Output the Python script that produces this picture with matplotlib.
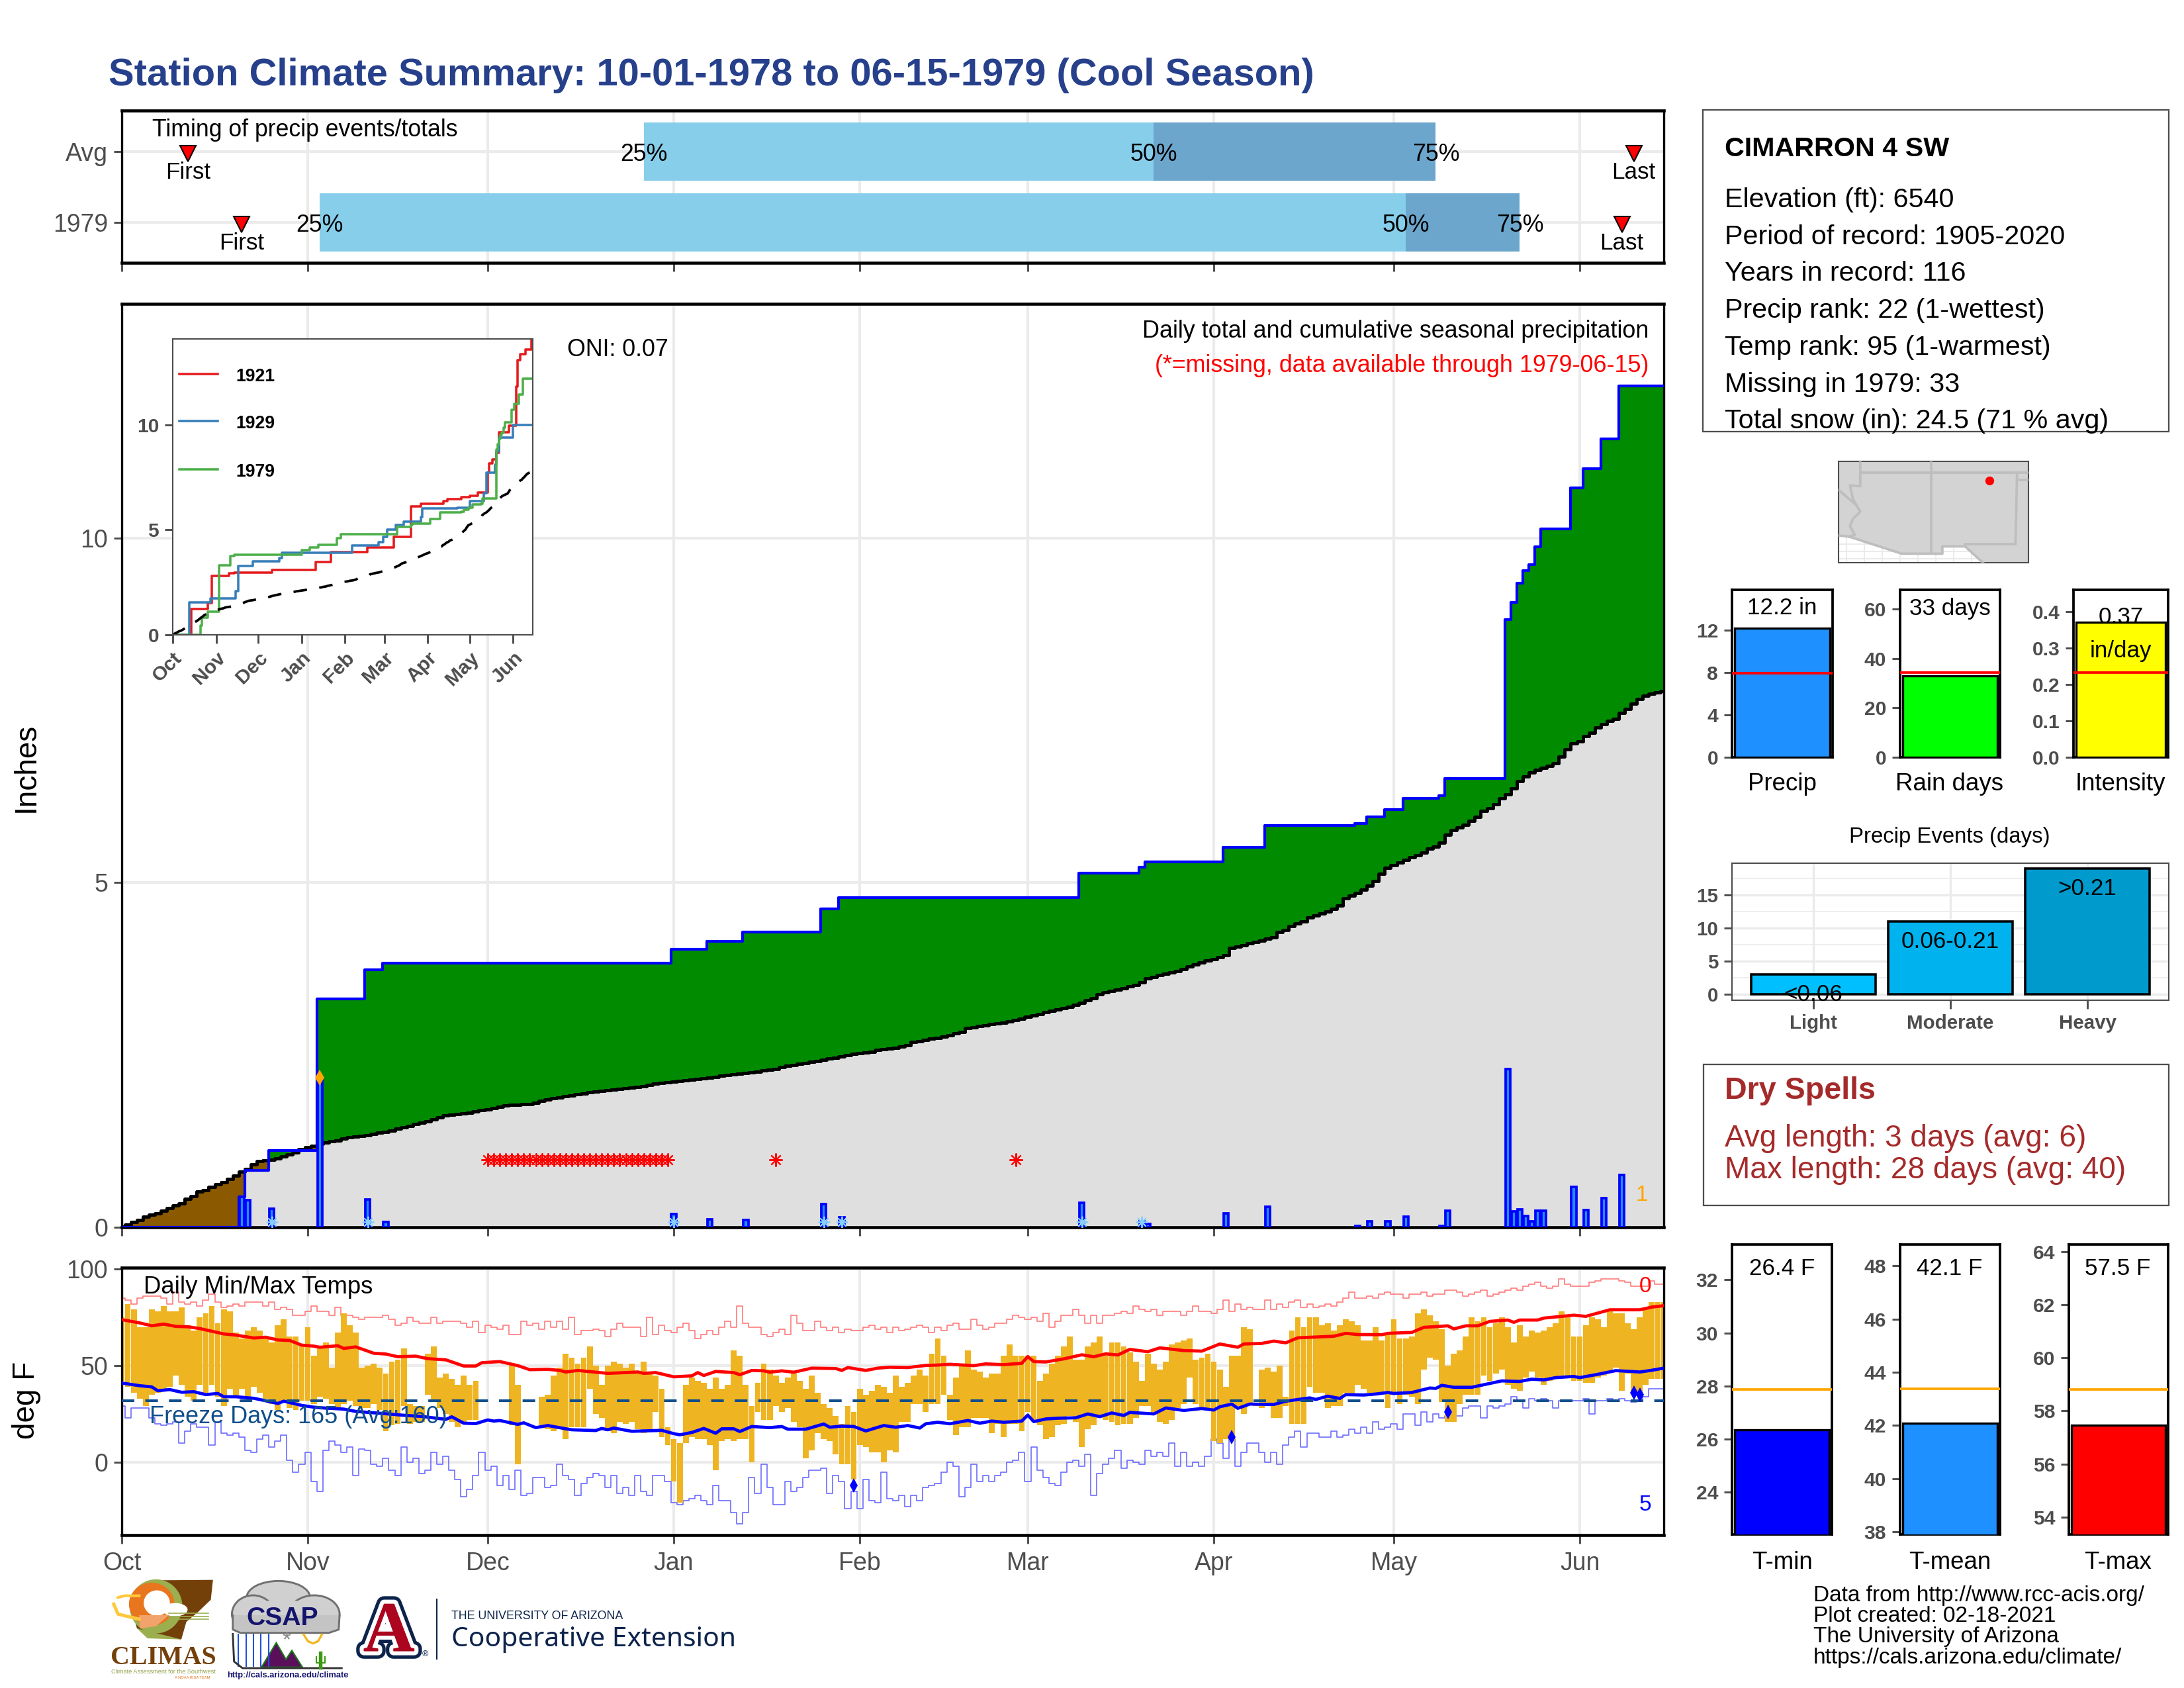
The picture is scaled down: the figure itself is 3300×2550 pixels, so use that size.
#!/usr/bin/env python3
"""Station climate summary panel for CIMARRON 4 SW, cool season 1978-79."""

import numpy as np
import matplotlib
matplotlib.use("Agg")
import matplotlib.pyplot as plt
from matplotlib.patches import Ellipse, Polygon, Rectangle
import matplotlib.patheffects as pe

plt.rcParams['font.family'] = ['Liberation Sans', 'DejaVu Sans']

nan = float('nan')
W, H = 3300, 2550

# Days are counted from Oct 1
month_days = [0, 31, 61, 92, 123, 151, 182, 212, 243]
month_names = ['Oct', 'Nov', 'Dec', 'Jan', 'Feb', 'Mar', 'Apr', 'May', 'Jun']
last_day = 257

# Daily precip
precip_days = [20, 21, 25, 33, 41, 44, 92, 98, 104, 117, 120, 160, 170, 171, 184, 191, 206,
               208, 211, 214, 220, 221, 231, 232, 233, 234, 235, 236, 237, 242, 244, 247, 250]
precip_vals = [0.44, 0.39, 0.27, 2.17, 0.40, 0.08, 0.19, 0.12, 0.11, 0.34, 0.14, 0.355, 0.09, 0.05, 0.20, 0.30, 0.015,
               0.085, 0.085, 0.15, 0.02, 0.24, 2.30, 0.23, 0.26, 0.16, 0.085, 0.24, 0.24, 0.59, 0.25, 0.42, 0.76]
cum_vals = [0.44, 0.83, 1.115, 3.31, 3.74, 3.83, 4.03, 4.15, 4.28, 4.62, 4.78, 5.14, 5.23, 5.30, 5.51, 5.83, 5.86,
            5.96, 6.06, 6.22, 6.26, 6.51, 8.82, 9.07, 9.35, 9.53, 9.62, 9.87, 10.13, 10.73, 11.01, 11.44, 12.21]
snow_days = [25, 41, 92, 117, 120, 160, 170]
missing_days = list(range(61, 92)) + [109, 149]
record_day = 33
record_val = 2.17

# Average cumulative precip, one value per day
avg_cum = [
    0.01, 0.04, 0.08, 0.11, 0.15, 0.18, 0.20, 0.24, 0.28, 0.32,
    0.35, 0.41, 0.45, 0.52, 0.54, 0.59, 0.62, 0.65, 0.70, 0.75,
    0.81, 0.85, 0.91, 0.96, 0.97, 0.98, 1.00, 1.03, 1.06, 1.09,
    1.13, 1.16, 1.18, 1.21, 1.23, 1.25, 1.26, 1.29, 1.31, 1.32,
    1.33, 1.34, 1.35, 1.37, 1.38, 1.40, 1.43, 1.45, 1.47, 1.50,
    1.52, 1.54, 1.57, 1.59, 1.62, 1.63, 1.64, 1.65, 1.66, 1.68,
    1.70, 1.71, 1.73, 1.75, 1.77, 1.78, 1.78, 1.79, 1.79, 1.81,
    1.83, 1.85, 1.87, 1.88, 1.90, 1.91, 1.93, 1.94, 1.96, 1.97,
    1.98, 1.99, 2.00, 2.01, 2.02, 2.03, 2.04, 2.05, 2.07, 2.08,
    2.09, 2.10, 2.11, 2.12, 2.13, 2.14, 2.15, 2.16, 2.17, 2.18,
    2.20, 2.21, 2.22, 2.23, 2.24, 2.25, 2.26, 2.28, 2.29, 2.30,
    2.32, 2.34, 2.35, 2.37, 2.38, 2.40, 2.41, 2.43, 2.45, 2.46,
    2.48, 2.50, 2.52, 2.53, 2.54, 2.55, 2.57, 2.58, 2.59, 2.60,
    2.62, 2.64, 2.69, 2.70, 2.72, 2.74, 2.75, 2.77, 2.79, 2.81,
    2.83, 2.89, 2.90, 2.92, 2.93, 2.95, 2.96, 2.97, 2.99, 3.01,
    3.03, 3.05, 3.07, 3.09, 3.12, 3.14, 3.16, 3.18, 3.20, 3.23,
    3.26, 3.29, 3.32, 3.38, 3.41, 3.43, 3.45, 3.47, 3.50, 3.52,
    3.55, 3.61, 3.63, 3.66, 3.68, 3.70, 3.72, 3.75, 3.78, 3.81,
    3.84, 3.87, 3.89, 3.92, 3.95, 4.05, 4.07, 4.09, 4.12, 4.14,
    4.16, 4.19, 4.21, 4.28, 4.31, 4.37, 4.41, 4.44, 4.50, 4.52,
    4.55, 4.58, 4.62, 4.67, 4.77, 4.81, 4.85, 4.90, 4.96, 5.02,
    5.13, 5.22, 5.25, 5.29, 5.33, 5.37, 5.40, 5.44, 5.49, 5.52,
    5.58, 5.70, 5.76, 5.80, 5.84, 5.90, 5.96, 6.04, 6.08, 6.14,
    6.22, 6.28, 6.37, 6.47, 6.54, 6.60, 6.64, 6.67, 6.70, 6.73,
    6.83, 6.94, 7.02, 7.05, 7.13, 7.18, 7.25, 7.30, 7.35, 7.38,
    7.46, 7.52, 7.60, 7.67, 7.71, 7.74, 7.76, 7.78]

# Wettest years in the inset
y1921_days = [13, 25, 28, 40, 44, 71, 102, 113, 139, 158, 170, 177, 193, 196, 206, 212, 218, 225, 226, 228, 231, 233, 240, 245, 246, 248, 252, 256]
y1921_vals = [1.22, 1.50, 2.82, 2.92, 2.95, 3.10, 3.46, 3.93, 4.16, 4.67, 6.11, 6.23, 6.38, 6.47, 6.55, 6.62, 6.78, 7.72, 8.17, 8.37, 8.68, 9.64, 9.98, 11.84, 13.08, 13.37, 13.60, 14.10]
y1929_days = [12, 27, 45, 47, 57, 76, 78, 128, 147, 150, 153, 159, 165, 177, 178, 203, 212, 222, 224, 230, 231, 233, 243]
y1929_vals = [1.56, 1.73, 2.09, 3.28, 3.50, 3.67, 3.91, 4.25, 4.42, 4.67, 5.00, 5.23, 5.40, 5.63, 6.02, 6.06, 6.38, 6.76, 7.72, 8.11, 8.73, 9.41, 10.00]

# Timing strip
timing_labels = ['1979', 'Avg']
first_days = [20, 11]
last_days = [250, 252]
q25_days = [33, 87]
q50_days = [214, 172]
q75_days = [233, 219]

# Daily temps (deg F), one value per day
tmax = [
    75, 82, 79, 70, 70, 79, 78, 81, 78, 78, 80, 71, 68, 75, 77, 81, 72, 79, 78, 67,
    64, 68, 70, 68, 65, 62, 71, 74, 65, 65, 61, 70, 55, 60, 62, 49, 67, 77, 71, 67,
    49, 50, 51, 49, 46, 52, 53, 59, 30, 29, 29, 56, 60, 44, 46, 43, 40, 45, 40, 42,
    nan, nan, nan, nan, nan, 50, 40, nan, nan, nan, 34, 35, 45, 49, 56, 54, 51, 54, 60, 50,
    40, 50, 52, 51, 49, 51, 46, 52, 47, 45, 38, 18, 12, 10, 40, 44, 42, 41, 38, 44,
    38, 40, 58, 55, 40, 29, 41, 51, 48, 45, 41, 44, 46, 42, 38, 45, 36, 30, 28, 24,
    20, 29, 26, 38, 35, 37, 40, 39, 36, 45, 39, 41, 45, 48, 45, 56, 64, 55, 35, 44,
    50, 58, 48, 47, 44, 46, 46, 55, 61, 55, 55, 55, 55, 42, 46, 51, 55, 60, 65, 53,
    53, 60, 62, 65, 55, 62, 62, 60, 57, 52, 42, 56, 51, 48, 52, 61, 62, 63, 64, 53,
    54, 56, 52, 48, 39, 55, 55, 70, 69, 30, 48, 49, 47, 50, 34, 68, 75, 70, 75, 75,
    71, 72, 68, 71, 74, 73, 71, 63, 63, 70, 63, 66, 74, 64, 64, 65, 77, 79, 76, 73,
    69, 50, 56, 58, 65, 75, 73, 75, 70, 72, 75, 70, 62, 71, 65, 68, 67, 68, 70, 72,
    78, 75, 65, 65, 71, 75, 74, 70, 79, 77, 77, 72, 69, 75, 80, 83, 83, 83]
tmin = [
    42, 39, 36, 33, 29, 35, 36, 38, 39, 45, 40, 34, 32, 40, 36, 40, 34, 29, 38, 34,
    38, 34, 39, 36, 33, 30, 27, 32, 28, 27, 32, 32, 30, 34, 33, 30, 28, 30, 32, 29,
    28, 28, 30, 27, 16, 19, 20, 29, 20, 21, 21, 35, 32, 28, 25, 21, 18, 21, 22, 22,
    nan, nan, nan, nan, nan, 19, -1, nan, nan, nan, 19, 17, 16, 17, 12, 18, 18, 18, 38, 25,
    23, 16, 15, 21, 20, 21, 17, 15, 17, 26, 13, 9, -10, -21, 10, 13, 12, 12, 9, -4,
    11, 12, 11, 12, 12, 0, 26, 22, 22, 29, 26, 28, 21, 18, 2, 6, 15, 12, 11, 4,
    -1, -1, -9, 9, 8, 5, 5, 0, 6, 5, 21, 21, 30, 30, 26, 30, 30, 35, 22, 14,
    18, 18, 23, 23, 23, 15, 20, 13, 20, 20, 16, 26, 21, 19, 12, 13, 19, 20, 24, 21,
    8, 17, 19, 24, 22, 21, 19, 20, 20, 23, 29, 29, 25, 21, 20, 22, 28, 30, 44, 30,
    27, 28, 11, 10, 12, 11, 29, 25, 30, 29, 28, 30, 23, 23, 29, 20, 20, 20, 39, 36,
    36, 28, 29, 29, 36, 35, 40, 38, 36, 36, 36, 28, 36, 30, 35, 34, 30, 48, 54, 53,
    31, 21, 21, 30, 35, 35, 35, 45, 42, 46, 48, 40, 38, 37, 44, 47, 44, 40, 42, 44,
    45, 45, 42, 42, 41, 41, 44, 45, 47, 49, 37, 46, 37, 36, 40, 43, 43, 43]

# Record high/low by calendar day
rec_high = [
    85, 84, 82, 85, 86, 86, 86, 85, 82, 88, 83, 82, 83, 81, 84, 87, 83, 80, 81, 82,
    81, 83, 83, 83, 81, 83, 79, 80, 79, 76, 76, 78, 81, 78, 78, 76, 80, 76, 76, 75,
    74, 75, 75, 75, 76, 74, 71, 72, 75, 73, 72, 72, 75, 72, 73, 73, 73, 72, 70, 73,
    67, 71, 70, 69, 71, 66, 66, 73, 71, 72, 69, 73, 70, 73, 69, 75, 66, 68, 68, 69,
    68, 65, 69, 72, 70, 70, 70, 65, 75, 66, 71, 68, 67, 70, 72, 68, 64, 66, 68, 66,
    70, 73, 70, 81, 72, 70, 70, 66, 65, 67, 69, 66, 76, 72, 68, 68, 73, 70, 68, 70,
    67, 69, 68, 68, 70, 71, 69, 70, 67, 70, 68, 69, 70, 71, 70, 67, 70, 68, 71, 72,
    69, 69, 74, 71, 69, 70, 72, 72, 74, 76, 75, 74, 75, 73, 77, 70, 73, 76, 76, 79,
    76, 72, 76, 72, 76, 76, 77, 78, 77, 81, 79, 78, 79, 76, 78, 78, 78, 76, 78, 81,
    78, 78, 77, 79, 84, 78, 82, 79, 80, 79, 79, 84, 79, 82, 80, 83, 84, 80, 82, 80,
    81, 82, 81, 83, 85, 88, 85, 85, 86, 85, 87, 88, 87, 87, 85, 87, 87, 88, 86, 87,
    87, 89, 89, 88, 86, 87, 88, 89, 86, 87, 88, 89, 90, 89, 91, 92, 93, 91, 90, 91,
    95, 92, 91, 91, 91, 93, 94, 95, 95, 95, 94, 93, 91, 91, 91, 94, 92, 92]
rec_low = [
    29, 23, 28, 28, 28, 23, 20, 19, 20, 21, 10, 16, 20, 18, 18, 9, 21, 15, 14, 15,
    13, 6, 5, 12, 14, 8, 11, 14, 1, -5, -1, 5, -10, -15, 6, 11, 9, 5, 8, -7,
    7, 6, -1, -2, 2, -4, -7, 8, 0, 2, -6, -4, 5, -1, 3, -4, -9, -18, -14, -7,
    5, -4, -2, -12, -7, -14, -4, -17, -16, -8, -8, -13, -12, -1, -7, -9, -17, -11, -8, -6,
    -7, -13, -7, -16, -13, -17, -7, -15, -17, -7, -7, -10, -21, -22, -20, -19, -17, -20, -22, -12,
    -20, -20, -26, -32, -26, -8, -16, -1, -13, -22, -22, -10, -15, -13, -8, -4, -4, -3, -16, -7,
    -10, -24, -15, -24, -9, -20, -21, -5, -19, -20, -17, -23, -17, -20, -13, -12, -11, -5, 0, -2,
    -18, -13, -1, -10, -7, -10, -7, -5, 0, 1, 5, -10, 8, -4, -8, -11, -12, -5, 0, 1,
    -2, 4, -17, -6, -1, 2, 6, -3, 1, 0, -1, 6, 3, 5, 3, 10, -2, 5, -2, 0,
    -2, 3, 12, 10, 2, 12, -2, 5, 10, 10, 5, 0, 5, -1, 9, 13, 16, 8, 15, 15,
    13, 13, 16, 13, 14, 17, 15, 18, 15, 21, 17, 18, 20, 17, 25, 25, 19, 26, 21, 25,
    23, 24, 24, 24, 28, 29, 29, 23, 29, 28, 29, 30, 34, 32, 28, 33, 32, 33, 32, 28,
    32, 32, 32, 32, 33, 25, 32, 32, 33, 32, 33, 32, 31, 32, 34, 38, 38, 38]

# Smoothed daily normals, read at the visible wiggles
avg_high_days = [0, 3, 5, 7, 9, 11, 13, 15, 17, 19, 22, 24, 26, 28, 30, 32, 33, 36, 37, 39, 42, 44, 46, 49, 51, 54, 57, 59, 60, 63,
                 66, 68, 71, 73, 74, 76, 79, 81, 84, 86, 87, 89, 92, 95, 96, 97, 99, 102, 103, 105, 107, 108, 110, 112, 115, 119, 120, 121, 124, 126,
                 128, 131, 134, 136, 138, 142, 144, 147, 150, 151, 152, 154, 157, 160, 162, 164, 166, 168, 171, 173, 177, 180, 183, 186, 187, 190, 192, 194, 196, 202,
                 204, 206, 210, 211, 215, 217, 221, 222, 224, 226, 228, 231, 232, 233, 236, 237, 242, 244, 248, 253, 255, 257]
avg_high = [73.8, 72.1, 70.6, 71.5, 70.3, 70.1, 69.2, 67.8, 66.4, 65.8, 64.3, 64.7, 63.3, 63, 60.6, 60.1, 59.5, 60.3, 58.9, 59.7, 56.4, 56, 54.6, 54.9, 53.6, 53, 49.8, 49.8, 51.5, 52.1,
            50, 47.9, 48.1, 47.5, 46.7, 47.5, 46.6, 46, 46.4, 46.7, 46, 46.4, 44.2, 44.7, 46.4, 44.9, 47, 46.4, 45.3, 47.5, 47.3, 46.6, 47.3, 46.6, 48.7, 48.5, 47.5, 49, 47.5, 48.7,
            49.2, 49, 50.1, 50.3, 50.7, 50, 50.9, 50.5, 51.2, 54.7, 52.1, 51.9, 53.5, 55.6, 54.6, 56.1, 55.5, 58.4, 57.2, 59.2, 57.8, 57.5, 61.2, 59.5, 61.2, 61.5, 62.7, 61.8, 64.4, 65.2,
            66.7, 66.1, 66, 66.7, 67.2, 69.8, 70.6, 69, 70.6, 70.6, 72.9, 73.6, 72.4, 73.6, 73.6, 74.6, 76.1, 75.5, 78.9, 78.9, 80.3, 81]
avg_low_days = [0, 3, 5, 6, 8, 10, 12, 14, 16, 17, 19, 22, 24, 26, 27, 30, 32, 34, 37, 39, 44, 47, 50, 54, 55, 57, 59, 61, 62, 63,
                66, 67, 69, 71, 74, 75, 79, 80, 81, 82, 85, 90, 92, 93, 95, 97, 99, 100, 102, 103, 105, 108, 110, 111, 114, 117, 118, 120, 122, 124,
                127, 129, 131, 133, 134, 136, 138, 141, 143, 145, 147, 150, 151, 152, 154, 156, 159, 161, 163, 165, 167, 168, 172, 174, 177, 180, 182, 183, 185, 186,
                188, 192, 194, 198, 199, 201, 203, 204, 207, 209, 211, 212, 215, 218, 219, 220, 222, 225, 230, 233, 235, 237, 239, 242, 243, 246, 249, 252, 253, 255, 257]
avg_low = [41, 39.6, 39, 37, 37.6, 36.2, 36.5, 35, 35.6, 33.9, 33.9, 33.1, 31.8, 30.4, 31.6, 29.4, 28.5, 28, 27.5, 26.3, 25.1, 24.3, 23.7, 22.2, 23.5, 20.2, 20, 21.9, 21.3, 21.6,
           19.6, 20.4, 17.9, 19, 17.3, 16.8, 16.4, 17.5, 16.8, 17.7, 16, 16.5, 14.8, 14.2, 15.4, 17.5, 15, 17.3, 17.3, 15.9, 18.5, 17.9, 18.5, 17.1, 17.1, 19.8, 18.1, 18.7, 18.5, 16.2,
           19, 18.1, 19, 17.7, 19.9, 20.7, 19.9, 21.6, 20.2, 21.3, 20.7, 21.3, 24.4, 21, 22.4, 22.8, 23, 25, 23.6, 25.5, 24.2, 25.8, 25, 28.1, 26.8, 27.8, 27, 28.7, 30.1, 27.9,
           30.1, 29.9, 31.6, 33.3, 32.5, 34.2, 33, 35, 34.8, 35.3, 36.1, 35.6, 36.1, 38.4, 38.2, 39.8, 38.8, 38.8, 42.1, 41.8, 43, 42.6, 43.8, 44.4, 43.8, 45.5, 47.4, 46.9, 46.7, 47.6, 48.7]
low_mark_days = [122, 185, 221, 252, 253]
low_mark_vals = [-12, 13, 26, 36, 35]
freeze_temp = 32

# Side panels
precip_total, precip_avg = 12.2, 7.95
rain_days, rain_avg = 33, 34.2
intensity, intensity_avg = 0.37, 0.233
event_names = ['Light', 'Moderate', 'Heavy']
event_counts = [3, 11, 19]
event_labels = ['<0.06', '0.06-0.21', '>0.21']
event_colors = ['#00BFFF', '#00B2EE', '#009ACD']
tmin_mean, tmin_norm = 26.36, 27.87
tmean_mean, tmean_norm = 42.07, 43.37
tmax_mean, tmax_norm = 57.47, 58.82

info_lines = ['Elevation (ft): 6540', 'Period of record: 1905-2020', 'Years in record: 116',
              'Precip rank: 22 (1-wettest)', 'Temp rank: 95 (1-warmest)', 'Missing in 1979: 33',
              'Total snow (in): 24.5 (71 % avg)']
footer_lines = ['Data from http://www.rcc-acis.org/', 'Plot created: 02-18-2021',
                'The University of Arizona', 'https://cals.arizona.edu/climate/']

# Locator map outlines (lon, lat)
south_lon = [-115.55, -114.82, -111.12, -108.28, -108.28, -106.69, -105.44]
south_lat = [32.60, 32.53, 31.33, 31.33, 31.84, 31.84, 30.70]
river_lon = [-114.03, -114.03, -114.75, -114.53, -114.03, -114.53, -114.75, -114.41, -114.82]
river_lat = [37.8, 36.06, 36.12, 35.13, 34.27, 33.79, 33.26, 32.64, 32.53]
nv_lon = [-115.55, -114.30]
nv_lat = [35.80, 34.73]
az_nm_lon = [-109.05, -109.05]
az_nm_lat = [37.8, 31.33]
co_lon = [-114.03, -102.25]
co_lat = [37.0, 37.0]
tx_lon = [-103.05, -103.16, -106.69]
tx_lat = [37.0, 32.0, 32.0]
ok_lon = [-103.05, -102.25]
ok_lat = [36.52, 36.52]
station_lon, station_lat = -104.98, 36.47

GRAY30 = '#4D4D4D'
GRID = '#EBEBEB'


def add_panel(fig, x0, y0, x1, y1, **kw):
    """Axes from pixel corners, y counted from the top of the image."""
    return fig.add_axes([x0 / W, 1 - y1 / H, (x1 - x0) / W, (y1 - y0) / H], **kw)


def month_axis(ax):
    ax.set_xlim(0, last_day)
    ax.set_xticks(month_days)
    ax.set_xticklabels([])
    ax.grid(True, color=GRID, lw=1.0)
    ax.set_axisbelow(True)
    ax.tick_params(length=3, width=0.7, color=GRAY30, labelcolor=GRAY30, labelsize=9, pad=2)
    for side in ('top', 'bottom'):
        ax.spines[side].set_linewidth(1.1)
    for side in ('left', 'right'):
        ax.spines[side].set_linewidth(0.8)


def small_bar(fig, put, box, ylim, ticks, value, norm, color, norm_color, xlabel, xlabel_x, xlabel_y):
    ax = add_panel(fig, *box)
    ax.bar(0.5, value, width=0.95, color=color, edgecolor='black', lw=0.8, zorder=3)
    ax.axhline(norm, color=norm_color, lw=0.9, zorder=4)
    ax.set_xlim(0, 1)
    ax.set_ylim(*ylim)
    ax.set_xticks([])
    ax.set_yticks(ticks)
    ax.tick_params(length=3, width=0.7, color=GRAY30, labelcolor=GRAY30, labelsize=7.2, pad=2)
    for lab in ax.get_yticklabels():
        lab.set_fontweight('bold')
    for sp in ax.spines.values():
        sp.set_linewidth(0.9)
    put(xlabel_x, xlabel_y, xlabel, ha='center', fontsize=8.8)
    return ax


def info_box(ov, x0, y0, x1, y1):
    ov.add_patch(Rectangle((x0, y0), x1 - x0, y1 - y0, fc='none', ec=GRAY30, lw=0.55))


def draw_logos(ov):
    # rough redraw of the three logos, given in offsets of the logo strip
    lx = lambda v: 140 + v / 1.568
    ly = lambda v: 2360 + v / 3

    def poly(points, **kw):
        ov.add_patch(Polygon([(lx(a), ly(b)) for a, b in points], closed=True, **kw))

    def oval(a, b, w, h, **kw):
        ov.add_patch(Ellipse((lx(a), ly(b)), w / 1.568, h / 3, **kw))

    # CLIMAS
    brown = '#74400A'
    poly([(150, 82), (285, 80), (280, 170), (250, 225), (222, 270), (210, 350),
          (150, 335), (105, 300), (90, 200)], fc=brown, ec='none')
    oval(150, 200, 125, 245, fc='#9CAF4F', ec='none')
    oval(140, 190, 108, 195, fc='#E8761F', ec='none')
    oval(152, 185, 62, 115, fc='white', ec='none')
    oval(195, 215, 60, 60, fc='white', ec='none')
    poly([(110, 240), (180, 240), (150, 290), (112, 300)], fc='#F2A36B', ec='none')
    poly([(105, 300), (190, 340), (210, 350), (130, 345)], fc='#9CAF4F', ec='none')
    ov.plot([lx(50), lx(60), lx(110)], [ly(190), ly(235), ly(258)], color='#FFC93C', lw=1.2)
    ov.plot([lx(60), lx(75), lx(110)], [ly(160), ly(152), ly(152)], color='#FFC93C', lw=1.0)
    for offs in (232, 246, 258):
        ov.plot([lx(180), lx(275)], [ly(offs), ly(offs)], color='#9CAF4F', lw=0.4)
    ov.text(lx(168), ly(432), 'CLIMAS', family='Liberation Serif', fontweight='bold', color=brown,
            fontsize=9.6, ha='center', va='center')
    ov.text(lx(168), ly(495), 'Climate Assessment for the Southwest', color='#8FA34A', fontsize=2.2,
            ha='center', va='center')
    ov.text(lx(237), ly(523), 'A NOAA RISA TEAM', color='#E8761F', fontsize=1.4, ha='center', va='center')

    # CSAP
    oval(440, 160, 150, 150, fc='#D0D0D0', ec='#707070', lw=0.7)
    oval(525, 235, 120, 170, fc='#D0D0D0', ec='#707070', lw=0.7)
    oval(380, 235, 100, 170, fc='#D0D0D0', ec='#707070', lw=0.7)
    poly([(332, 240), (585, 240), (583, 305), (560, 320), (350, 320), (332, 305)], fc='#C4C4C4', ec='none')
    poly([(360, 175), (520, 175), (550, 240), (350, 240)], fc='#D0D0D0', ec='none')
    ov.plot([lx(332), lx(332), lx(350), lx(560), lx(583), lx(585)],
            [ly(240), ly(305), ly(320), ly(320), ly(305), ly(240)], color='#707070', lw=0.7)
    ov.text(lx(450), ly(255), 'CSAP', fontweight='bold', color='#14146E', fontsize=9.4, ha='center', va='center')
    for rain_x in (345, 363, 381, 399, 417):
        ov.plot([lx(rain_x), lx(rain_x)], [ly(328), ly(470)], color='#2050E0', lw=0.5)
    ov.plot([lx(332), lx(335), lx(355), lx(590)], [ly(325), ly(450), ly(480), ly(480)], color='#333333', lw=0.7)
    poly([(400, 476), (435, 365), (458, 440), (472, 400), (497, 476)], fc='#5B0F5B', ec='#1A7A1A', lw=0.5)
    ov.text(lx(460), ly(355), '*', color='#8A8A8A', fontsize=8, ha='center', va='center')
    ov.plot([lx(500), lx(510), lx(522), lx(534), lx(543)], [ly(328), ly(358), ly(368), ly(358), ly(328)],
            color='#F2B71F', lw=0.8)
    ov.plot([lx(540), lx(540)], [ly(412), ly(478)], color='#3C9A10', lw=1.3)
    ov.plot([lx(530), lx(530), lx(550), lx(550)], [ly(430), ly(455), ly(455), ly(430)], color='#3C9A10', lw=0.5)
    ov.text(lx(463), ly(513), 'http://cals.arizona.edu/climate', fontweight='bold', color='#14146E', fontsize=3.1,
            ha='center', va='center')

    # Arizona
    navy = '#0C234B'
    ov.text(lx(702), ly(325), 'A', family='Liberation Serif', fontweight='bold', color='#AB0520', fontsize=26,
            ha='center', va='center',
            path_effects=[pe.withStroke(linewidth=5.5, foreground=navy), pe.withStroke(linewidth=3, foreground='white'),
                          pe.Normal()])
    ov.text(lx(788), ly(418), '\u00ae', color=navy, fontsize=3, ha='center', va='center')
    ov.plot([lx(815), lx(815)], [ly(168), ly(438)], color=navy, lw=0.5)
    ov.text(lx(850), ly(243), 'THE UNIVERSITY OF ARIZONA', color=navy, fontsize=4.25, ha='left', va='center')
    ov.text(lx(850), ly(350), 'Cooperative Extension', family='Noto Sans', color=navy, fontsize=9.8,
            ha='left', va='center')


def main():
    fig = plt.figure(figsize=(11, 8.5), dpi=300)

    # overlay in image pixels for free text and logos
    ov = fig.add_axes([0, 0, 1, 1], zorder=20)
    ov.set_xlim(0, W)
    ov.set_ylim(H, 0)
    ov.axis('off')

    def put(x, y, s, **kw):
        # centred text, nudged down so the letters (not the descenders) sit on y
        kw.setdefault('ha', 'left')
        kw.setdefault('va', 'center')
        ov.text(x, y + 4, s, **kw)

    put(164, 110, 'Station Climate Summary: 10-01-1978 to 06-15-1979 (Cool Season)', color='#27408B',
        fontweight='bold', fontsize=13.9)

    # timing strip
    ax = add_panel(fig, 184, 167, 2514, 397)
    month_axis(ax)
    ax.set_ylim(0.43, 2.58)
    ax.set_yticks([1, 2])
    ax.set_yticklabels(timing_labels)
    for row in range(2):
        y = row + 1
        ax.barh(y, q50_days[row] - q25_days[row], left=q25_days[row], height=0.82, color='#87CEEB', zorder=2)
        ax.barh(y, q75_days[row] - q50_days[row], left=q50_days[row], height=0.82, color='#6CA6CD', zorder=2)
        for d, label in zip((q25_days[row], q50_days[row], q75_days[row]), ('25%', '50%', '75%')):
            ax.text(d, y - 0.04, label, ha='center', va='center', fontsize=8.6, zorder=4)
        for d, label in zip((first_days[row], last_days[row]), ('First', 'Last')):
            ax.plot(d, y - 0.03, marker='v', ms=5.6, mfc='red', mec='black', mew=0.5, zorder=4)
            ax.text(d, y - 0.29, label, ha='center', va='center', fontsize=8.4, zorder=4)
    put(230, 192, 'Timing of precip events/totals', fontsize=8.55)

    # main precip panel
    ax = add_panel(fig, 184, 459, 2514, 1854)
    month_axis(ax)
    days = np.arange(last_day + 1)
    obs = np.zeros(last_day + 1)
    for d, v in zip(precip_days, cum_vals):
        obs[d:] = v
    normal = np.array(avg_cum)
    ax.fill_between(days, 0, normal, step='mid', color='#8B5A00', lw=0, zorder=2)
    ax.fill_between(days, 0, obs, step='mid', color='#008B00', lw=0, zorder=2.1)
    ax.fill_between(days, 0, np.minimum(obs, normal), step='mid', color='#DFDFDF', lw=0, zorder=2.2)
    ax.step(days, normal, where='mid', color='black', lw=1.2, zorder=3)
    ax.step(days, obs, where='mid', color='#0000FF', lw=1.0, zorder=3.1)
    ax.bar(precip_days, precip_vals, width=0.8, color='#1E90FF', edgecolor='#0000FF', lw=0.9, zorder=3.2)
    ax.plot(snow_days, [0.08] * len(snow_days), ls='none', marker=(8, 2, 0), ms=4.2, mec='#87CEFA', mew=0.45, zorder=4)
    ax.plot(missing_days, [0.98] * len(missing_days), ls='none', marker=(8, 2, 0), ms=4.8, mec='red', mew=0.5, zorder=4)
    ax.plot(record_day, record_val, marker='d', ms=4, color='orange', mew=0, zorder=4)
    ax.set_ylim(0, 13.4)
    ax.set_yticks([0, 5, 10])
    put(40, 1155, 'Inches', rotation=90, ha='center', fontsize=11)
    put(857, 524, 'ONI: 0.07', fontsize=8.6)
    put(2491, 497, 'Daily total and cumulative seasonal precipitation', ha='right', fontsize=8.62)
    put(2491, 549, '(*=missing, data available through 1979-06-15)', color='red', ha='right', fontsize=8.62)
    put(2481, 1802, '1', color='orange', ha='center', fontsize=8)

    # wettest years inset
    inset = add_panel(fig, 261, 512, 805, 959, zorder=5)
    inset.set_xlim(0, last_day)
    inset.set_ylim(0, 14.1)
    inset.set_xticks(month_days)
    inset.set_xticklabels(month_names, rotation=45, ha='right', rotation_mode='anchor', fontweight='bold')
    inset.set_yticks([0, 5, 10])
    for lab in inset.get_yticklabels():
        lab.set_fontweight('bold')
    inset.tick_params(length=3, width=0.7, color=GRAY30, labelcolor=GRAY30, labelsize=7.2, pad=2)
    for sp in inset.spines.values():
        sp.set_linewidth(0.5)
        sp.set_color(GRAY30)
    inset.step([0] + y1921_days + [last_day], [0] + y1921_vals + [y1921_vals[-1]], where='post', color='#E41A1C', lw=0.85)
    inset.step([0] + y1929_days + [last_day], [0] + y1929_vals + [y1929_vals[-1]], where='post', color='#377EB8', lw=0.85)
    inset.step([0] + precip_days + [last_day], [0] + cum_vals + [cum_vals[-1]], where='post', color='#4DAF4A', lw=0.85)
    inset.plot(days, normal, color='black', lw=0.9, dashes=(5.5, 5))
    legend_rows = [('1921', '#E41A1C', 565), ('1929', '#377EB8', 636), ('1979', '#4DAF4A', 709)]
    for label, color, row_y in legend_rows:
        ov.plot([271, 329], [row_y, row_y], color=color, lw=0.85)
        put(356, row_y, label, fontweight='bold', fontsize=6.4)

    # daily temps
    ax = add_panel(fig, 184, 1915, 2514, 2319)
    month_axis(ax)
    tmax_arr = np.array(tmax, dtype=float)
    tmin_arr = np.array(tmin, dtype=float)
    ax.step(days, rec_high, where='mid', color='#FF5050', alpha=0.75, lw=0.4, zorder=2)
    ax.step(days, rec_low, where='mid', color='#3C3CFF', alpha=0.75, lw=0.4, zorder=2)
    ax.bar(days, tmax_arr - tmin_arr, bottom=tmin_arr, width=0.97, color='#EEB422', lw=0, zorder=2.5)
    ax.plot(avg_high_days, avg_high, color='red', lw=1.15, zorder=3)
    ax.plot(avg_low_days, avg_low, color='blue', lw=1.15, zorder=3)
    ax.axhline(freeze_temp, color='#104E8B', lw=0.95, dashes=(4.8, 4.2), zorder=3.2)
    ax.plot(low_mark_days, low_mark_vals, ls='none', marker='d', ms=3.6, color='blue', mew=0, zorder=4)
    ax.set_ylim(-37.7, 100.7)
    ax.set_yticks([0, 50, 100])
    ax.set_xticklabels(month_names)
    ax.tick_params(axis='x', pad=3)
    put(40, 2111, 'deg F', rotation=90, ha='center', fontsize=11)
    put(217, 1940, 'Daily Min/Max Temps', fontsize=8.75)
    put(226, 2137, 'Freeze Days: 165 (Avg:160)', color='#104E8B', fontsize=8.65)
    put(2486, 1940, '0', color='red', ha='center', fontsize=8)
    put(2486, 2270, '5', color='blue', ha='center', fontsize=8)

    # station info
    info_box(ov, 2573, 166, 3277, 652)
    put(2606, 221, 'CIMARRON 4 SW', fontweight='bold', fontsize=9.9)
    for row_y, line in zip((298, 354, 409, 465, 521, 577, 632), info_lines):
        put(2606, row_y, line, fontsize=9.9)

    # locator map
    ax = add_panel(fig, 2778, 697, 3065, 850)
    ax.set_xlim(-115.55, -102.25)
    ax.set_ylim(30.7, 37.8)
    ax.set_xticks(np.arange(-115, -102, 1.25))
    ax.set_yticks([31, 31.5, 32, 33])
    ax.grid(True, color=GRID, lw=0.5)
    ax.set_axisbelow(True)
    ax.tick_params(length=0, labelbottom=False, labelleft=False)
    ax.fill(south_lon + [-102.25, -102.25, -115.55], south_lat + [30.7, 37.8, 37.8], color='#D3D3D3', lw=0, zorder=2)
    ax.plot(south_lon, south_lat, color='#BEBEBE', lw=0.9, zorder=3)
    for lon, lat in ((river_lon, river_lat), (nv_lon, nv_lat), (az_nm_lon, az_nm_lat), (co_lon, co_lat),
                     (tx_lon, tx_lat), (ok_lon, ok_lat)):
        ax.plot(lon, lat, color='#BEBEBE', lw=0.9, zorder=3)
    ax.plot(station_lon, station_lat, marker='o', ms=3.2, color='red', mew=0, zorder=4)
    for sp in ax.spines.values():
        sp.set_linewidth(0.5)
        sp.set_color(GRAY30)

    # season totals
    ax = small_bar(fig, put, (2617, 891, 2769, 1144), (0, 15.8), [0, 4, 8, 12], precip_total, precip_avg,
                   '#1E90FF', 'red', 'Precip', 2693, 1181)
    put(2693, 915, '12.2 in', ha='center', fontsize=8.4)
    ax = small_bar(fig, put, (2871, 891, 3022, 1144), (0, 67.8), [0, 20, 40, 60], rain_days, rain_avg,
                   '#00FF00', 'red', 'Rain days', 2946, 1181)
    put(2946, 915, '33 days', ha='center', fontsize=8.4)
    ax = small_bar(fig, put, (3133, 891, 3276, 1144), (0, 0.459), [0, 0.1, 0.2, 0.3, 0.4], intensity, intensity_avg,
                   '#FFFF00', 'red', 'Intensity', 3204, 1181)
    ax.text(0.5, 0.384, '0.37', ha='center', va='center', fontsize=8.4, zorder=2)
    put(3204, 980, 'in/day', ha='center', fontsize=8.4)

    # precip events
    put(2946, 1261, 'Precip Events (days)', ha='center', fontsize=7.9)
    ax = add_panel(fig, 2617, 1304, 3277, 1511)
    ax.set_xlim(0.406, 3.594)
    ax.set_ylim(-0.9, 19.8)
    ax.bar([1, 2, 3], event_counts, width=0.907, color=event_colors, edgecolor='black', lw=0.85, zorder=3)
    ax.set_xticks([1, 2, 3])
    ax.set_xticklabels(event_names, fontweight='bold')
    ax.set_yticks([0, 5, 10, 15])
    ax.set_yticks([2.5, 7.5, 12.5, 17.5], minor=True)
    ax.grid(True, which='major', color=GRID, lw=0.8)
    ax.grid(True, which='minor', axis='y', color=GRID, lw=0.4)
    ax.set_axisbelow(True)
    ax.tick_params(length=3, width=0.7, color=GRAY30, labelcolor=GRAY30, labelsize=7.1, pad=2)
    ax.tick_params(which='minor', length=0)
    for lab in ax.get_yticklabels():
        lab.set_fontweight('bold')
    for sp in ax.spines.values():
        sp.set_linewidth(0.5)
        sp.set_color(GRAY30)
    for i in range(3):
        ax.text(i + 1, event_counts[i] - 3.1, event_labels[i], ha='center', va='center', fontsize=8.4, zorder=5)

    # dry spells
    info_box(ov, 2574, 1608, 3277, 1821)
    put(2606, 1644, 'Dry Spells', color='#A52A2A', fontweight='bold', fontsize=11.2)
    put(2606, 1716, 'Avg length: 3 days (avg: 6)', color='#A52A2A', fontsize=11.05)
    put(2606, 1764, 'Max length: 28 days (avg: 40)', color='#A52A2A', fontsize=11.05)

    # seasonal temps
    small_bar(fig, put, (2617, 1880, 2768, 2318), (22.41, 33.33), [24, 26, 28, 30, 32], tmin_mean, tmin_norm,
              '#0000FF', '#FFA500', 'T-min', 2693, 2357)
    put(2693, 1912, '26.4 F', ha='center', fontsize=8.4)
    small_bar(fig, put, (2871, 1880, 3022, 2318), (37.9, 48.8), [38, 40, 42, 44, 46, 48], tmean_mean, tmean_norm,
              '#1E90FF', '#FFA500', 'T-mean', 2946, 2357)
    put(2946, 1912, '42.1 F', ha='center', fontsize=8.4)
    small_bar(fig, put, (3126, 1880, 3276, 2318), (53.35, 64.27), [54, 56, 58, 60, 62, 64], tmax_mean, tmax_norm,
              '#FF0000', '#FFA500', 'T-max', 3200, 2357)
    put(3200, 1912, '57.5 F', ha='center', fontsize=8.4)

    # footer
    for row_y, line in zip((2406, 2437, 2468, 2501), footer_lines):
        put(2740, row_y, line, fontsize=8)

    draw_logos(ov)

    fig.savefig('out.png', dpi=300)


if __name__ == "__main__":
    main()
